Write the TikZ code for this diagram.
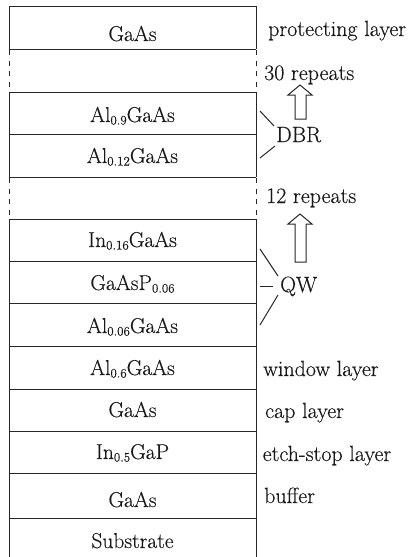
\documentclass[tikz,border=0pt]{standalone}
\usepackage{fontspec}
\setmainfont{Latin Modern Roman}[FakeBold=0.35]
\newcommand\lsub[1]{\raisebox{-2.5pt}{\fontsize{13}{14}\selectfont #1}}
\begin{document}
\begin{tikzpicture}[x=1pt,y=-1pt,
  ln/.style={line width=1pt,draw=black!85},
  dsh/.style={ln,dash pattern=on 5pt off 5.5pt},
  lay/.style={anchor=base,inner sep=0pt,text=black!90,font=\fontsize{21.5}{24}\selectfont},
  lab/.style={anchor=base west,inner sep=0pt,text=black!90,font=\fontsize{22}{24}\selectfont},
  blk/.style={ln,fill=white}]
\useasboundingbox (0,0) rectangle (412,557);
% layer boundaries
\foreach \y in {6,49,92,134,177,219,261,303,346,389,431,473,518}
  \draw[ln] (9,\y) -- (256,\y);
% vertical solid sides
\foreach \x in {9,256}{
  \draw[ln] (\x,6) -- (\x,49);
  \draw[ln] (\x,92) -- (\x,177);
  \draw[ln] (\x,219) -- (\x,557);
  \draw[dsh] (\x,50) -- (\x,92);
  \draw[dsh] (\x,178) -- (\x,219);
}
% layer texts
\node[lay] (l1) at (132.5,41) {GaAs};
\node[lay] (l2) at (132.5,122) {Al\lsub{0.9}GaAs};
\node[lay] (l3) at (132.5,163) {Al\lsub{0.12}GaAs};
\node[lay] (l4) at (132.5,247) {In\lsub{0.16}GaAs};
\node[lay] (l5) at (132.5,290) {GaAsP\lsub{0.06}};
\node[lay] (l6) at (132.5,333) {Al\lsub{0.06}GaAs};
\node[lay] (l7) at (132.5,375) {Al\lsub{0.6}GaAs};
\node[lay] (l8) at (132.5,417) {GaAs};
\node[lay] (l9) at (132.5,459) {In\lsub{0.5}GaP};
\node[lay] (l10) at (132.5,507) {GaAs};
\node[lay] (l11) at (132.5,548) {Substrate};
% right labels
\node[lab] (prot) at (268,36) {protecting layer};
\node[lab] (r30) at (264,80) {30 repeats};
\node[lab] (dbr) at (276,142) {DBR};
\node[lab] (r12) at (266,203) {12 repeats};
\node[lab] (qw) at (280,292) {QW};
\node[lab] (win) at (263,376) {window layer};
\node[lab] (cap) at (265,418) {cap layer};
\node[lab] (etch) at (262.5,461) {etch-stop layer};
\node[lab] (buf) at (264,503) {buffer};
% leader lines
\coordinate (d1) at (260,111);
\coordinate (d2) at (260,158);
\coordinate (d1e) at (274,126);
\coordinate (d2e) at (275,146);
\draw[ln] (d1) -- (d1e);
\draw[ln] (d2) -- (d2e);
\coordinate (q1) at (260,249);
\coordinate (q2) at (260,286);
\coordinate (q3) at (260,325);
\coordinate (q1e) at (278,276);
\coordinate (q2e) at (273,286);
\coordinate (q3e) at (278,295);
\draw[ln] (q1) -- (q1e);
\draw[ln] (q2) -- (q2e);
\draw[ln] (q3) -- (q3e);
% hollow arrows
\draw[blk] (295,119) -- (295,95) -- (288,95) -- (300,85) -- (312,95) -- (306,95) -- (306,119) -- cycle;
\draw[blk] (295,262) -- (295,224) -- (288,224) -- (300,214) -- (312,224) -- (306,224) -- (306,262) -- cycle;
\end{tikzpicture}
\end{document}
